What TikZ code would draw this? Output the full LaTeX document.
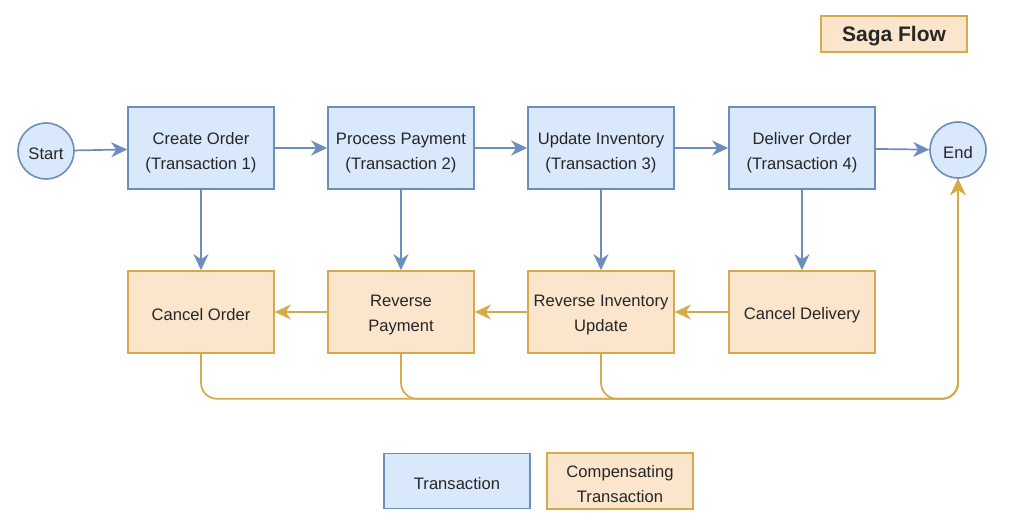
\documentclass[tikz,border=0pt]{standalone}
\usepackage{fontspec}
\setmainfont{Liberation Sans}
\usetikzlibrary{arrows.meta}
\definecolor{tfill}{HTML}{DAE8FC}
\definecolor{tdraw}{HTML}{6C8EBF}
\definecolor{cfill}{HTML}{FBE6CD}
\definecolor{cdraw}{HTML}{D6A94A}
\begin{document}
\begin{tikzpicture}[x=1pt,y=-1pt,
  every node/.style={font=\fontsize{16.6}{25}\selectfont, text=black!85, align=center, inner sep=0pt},
  every label/.style={font=\fontsize{16.6}{25}\selectfont, text=black!85, align=center, inner sep=0pt},
  txt/.style={label={[yshift=-3pt]center:#1}},
  ttxt/.style={label={[yshift=-5pt]center:#1}},
  tbox/.style={draw=tdraw, fill=tfill, line width=1.6pt, minimum width=146pt, minimum height=82pt},
  cbox/.style={draw=cdraw, fill=cfill, line width=1.6pt, minimum width=146pt, minimum height=82pt},
  term/.style={circle, draw=tdraw, fill=tfill, line width=1.6pt, minimum size=56pt},
  tip/.style={-{Stealth[length=16pt,width=15pt,inset=5pt]}},
  tarr/.style={draw=tdraw, line width=1.7pt, tip},
  carr/.style={draw=cdraw, line width=1.7pt, tip},
  cline/.style={draw=cdraw, line width=1.7pt, rounded corners=16pt, tip}]
\useasboundingbox (0,0) rectangle (1036,522);
\node[cbox, minimum width=146pt, minimum height=36pt, label={[yshift=-2pt, font=\bfseries\fontsize{21}{25}\selectfont]center:Saga Flow}] (title) at (894,34) {};
\node[term, txt=Start] (start) at (46,151) {};
\node[tbox, ttxt={Create Order\\(Transaction 1)}] (t1) at (201,148) {};
\node[tbox, ttxt={Process Payment\\(Transaction 2)}] (t2) at (401,148) {};
\node[tbox, ttxt={Update Inventory\\(Transaction 3)}] (t3) at (601,148) {};
\node[tbox, ttxt={Deliver Order\\(Transaction 4)}] (t4) at (802,148) {};
\node[term, txt=End] (end) at (958,150) {};
\node[cbox, txt={Cancel Order}] (c1) at (201,312) {};
\node[cbox, txt={Reverse\\Payment}] (c2) at (401,312) {};
\node[cbox, txt={Reverse Inventory\\Update}] (c3) at (601,312) {};
\node[cbox, txt={Cancel Delivery}] (c4) at (802,312) {};
\node[tbox, minimum height=55pt, txt=Transaction] (lt) at (457,481) {};
\node[cbox, minimum height=56pt, txt={Compensating\\Transaction}] (lc) at (620,481) {};
\draw[tarr] (start) -- (t1);
\draw[tarr] (t1) -- (t2);
\draw[tarr] (t2) -- (t3);
\draw[tarr] (t3) -- (t4);
\draw[tarr] (t4) -- (end);
\draw[tarr] (t1) -- (c1);
\draw[tarr] (t2) -- (c2);
\draw[tarr] (t3) -- (c3);
\draw[tarr] (t4) -- (c4);
\draw[carr] (c4) -- (c3);
\draw[carr] (c3) -- (c2);
\draw[carr] (c2) -- (c1);
\draw[cline] (c1.south) -- ++(0,45) -| (end.south);
\draw[cline] (c2.south) -- ++(0,45) -| (end.south);
\draw[cline] (c3.south) -- ++(0,45) -| (end.south);
\end{tikzpicture}
\end{document}
